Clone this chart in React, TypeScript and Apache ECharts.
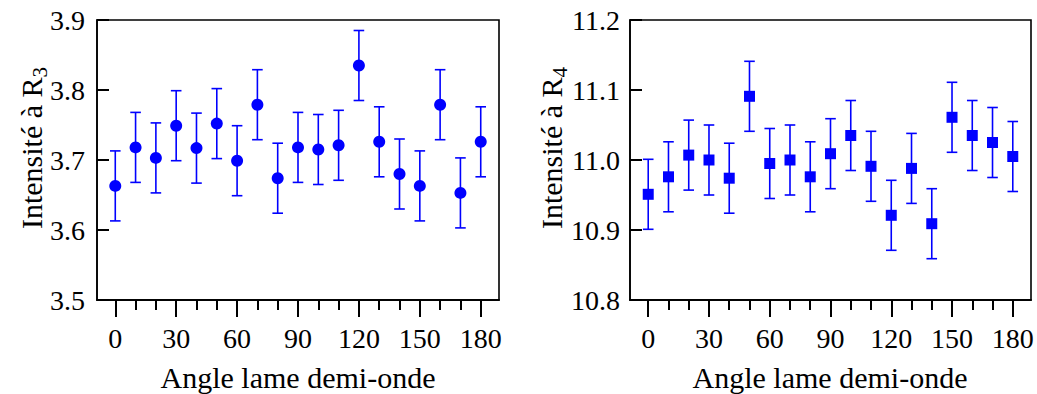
import React, { useEffect, useRef } from 'react';
import * as echarts from 'echarts';

const angles = [0, 10, 20, 30, 40, 50, 60, 70, 80, 90, 100, 110, 120, 130, 140, 150, 160, 170, 180];
const r3Values = [3.663, 3.718, 3.703, 3.749, 3.717, 3.752, 3.699, 3.779, 3.674, 3.718, 3.715, 3.721, 3.835, 3.726, 3.680, 3.663, 3.779, 3.653, 3.726];
const r3Errors = [0.05, 0.05, 0.05, 0.05, 0.05, 0.05, 0.05, 0.05, 0.05, 0.05, 0.05, 0.05, 0.05, 0.05, 0.05, 0.05, 0.05, 0.05, 0.05];
const r4Values = [10.951, 10.976, 11.007, 11.000, 10.974, 11.091, 10.995, 11.000, 10.976, 11.009, 11.035, 10.991, 10.921, 10.988, 10.909, 11.061, 11.035, 11.025, 11.005];
const r4Errors = [0.05, 0.05, 0.05, 0.05, 0.05, 0.05, 0.05, 0.05, 0.05, 0.05, 0.05, 0.05, 0.05, 0.05, 0.05, 0.05, 0.05, 0.05, 0.05];
const xMajorTicks = [0, 30, 60, 90, 120, 150, 180];
const xMinorTicks = [10, 20, 40, 50, 70, 80, 100, 110, 130, 140, 160, 170];
const xTitle = 'Angle lame demi-onde';
const r3Title = ['Intensité à R', '3'];
const r4Title = ['Intensité à R', '4'];

const FONT = "'Liberation Serif', 'Times New Roman', serif";
const BLUE = '#0000ff';
const BLACK = '#000000';

const renderErr = (params: any, api: any) => {
  const x = api.value(0);
  const lo = api.value(1);
  const hi = api.value(2);
  const pLo = api.coord([x, lo]);
  const pHi = api.coord([x, hi]);
  const hw = 5.3;
  const style = { stroke: BLUE, lineWidth: 1.6, fill: 'none' };
  return {
    type: 'group',
    children: [
      { type: 'line', shape: { x1: pLo[0], y1: pLo[1], x2: pHi[0], y2: pHi[1] }, style },
      { type: 'line', shape: { x1: pLo[0] - hw, y1: pLo[1], x2: pLo[0] + hw, y2: pLo[1] }, style },
      { type: 'line', shape: { x1: pHi[0] - hw, y1: pHi[1], x2: pHi[0] + hw, y2: pHi[1] }, style },
    ],
  };
};

const mainX = (gridIndex: number) => ({
  gridIndex,
  type: 'value',
  min: -9,
  max: 189,
  position: 'bottom',
  axisLine: { show: true, onZero: false, lineStyle: { color: BLACK, width: 1.6 } },
  axisTick: { show: true, length: 17, customValues: xMajorTicks, lineStyle: { color: BLACK, width: 2 } },
  axisLabel: { show: true, customValues: xMajorTicks, margin: 24, fontSize: 28, fontFamily: FONT, color: BLACK },
  splitLine: { show: false },
});

const minorX = (gridIndex: number) => ({
  gridIndex,
  type: 'value',
  min: -9,
  max: 189,
  position: 'bottom',
  axisLine: { show: true, onZero: false, lineStyle: { color: BLACK, width: 1.6 } },
  axisTick: { show: true, length: 10, customValues: xMinorTicks, lineStyle: { color: BLACK, width: 2 } },
  axisLabel: { show: false },
  splitLine: { show: false },
});

const yAx = (gridIndex: number, min: number, max: number, margin: number) => ({
  gridIndex,
  type: 'value',
  min,
  max,
  interval: 0.1,
  axisLine: { show: true, onZero: false, lineStyle: { color: BLACK, width: 1.6 } },
  axisTick: { show: true, inside: true, length: 12, lineStyle: { color: BLACK, width: 2 } },
  axisLabel: { margin, fontSize: 28, fontFamily: FONT, color: BLACK, formatter: (v: number) => v.toFixed(1) },
  splitLine: { show: false },
});

const yTitle = (cx: number, cy: number, parts: string[]) => ({
  type: 'text',
  x: cx,
  y: cy,
  rotation: Math.PI / 2,
  style: {
    text: `{a|${parts[0]}}{b|${parts[1]}}`,
    align: 'center',
    verticalAlign: 'middle',
    fill: BLACK,
    rich: {
      a: { fontSize: 30, lineHeight: 30, fontFamily: FONT, fill: BLACK, verticalAlign: 'top' },
      b: { fontSize: 21, lineHeight: 21, fontFamily: FONT, fill: BLACK, verticalAlign: 'top', padding: [13.5, 0, 0, 0] },
    },
  },
});

const xTitleEl = (cx: number) => ({
  type: 'text',
  x: cx,
  y: 377,
  style: { text: xTitle, align: 'center', verticalAlign: 'middle', fontSize: 30, fontFamily: FONT, fill: BLACK },
});

export default function App() {
  const ref = useRef<HTMLDivElement>(null);
  useEffect(() => {
    if (!ref.current) return;
    const chart = echarts.init(ref.current, undefined, { renderer: 'svg' });
    const option: any = {
      animation: false,
      backgroundColor: '#ffffff',
      grid: [
        { left: 97, top: 20, width: 402, height: 280, show: true, borderColor: BLACK, borderWidth: 1.6 },
        { left: 630, top: 20, width: 401, height: 280, show: true, borderColor: BLACK, borderWidth: 1.6 },
      ],
      xAxis: [mainX(0), minorX(0), mainX(1), minorX(1)],
      yAxis: [yAx(0, 3.5, 3.9, 12), yAx(1, 10.8, 11.2, 10)],
      series: [
        {
          type: 'custom',
          xAxisIndex: 0,
          yAxisIndex: 0,
          renderItem: renderErr,
          encode: { x: 0, y: [1, 2] },
          data: angles.map((a, i) => [a, r3Values[i] - r3Errors[i], r3Values[i] + r3Errors[i]]),
          z: 1,
        },
        {
          type: 'scatter',
          xAxisIndex: 0,
          yAxisIndex: 0,
          symbol: 'circle',
          symbolSize: 12,
          itemStyle: { color: BLUE, opacity: 1 },
          data: angles.map((a, i) => [a, r3Values[i]]),
          z: 2,
        },
        {
          type: 'custom',
          xAxisIndex: 2,
          yAxisIndex: 1,
          renderItem: renderErr,
          encode: { x: 0, y: [1, 2] },
          data: angles.map((a, i) => [a, r4Values[i] - r4Errors[i], r4Values[i] + r4Errors[i]]),
          z: 1,
        },
        {
          type: 'scatter',
          xAxisIndex: 2,
          yAxisIndex: 1,
          symbol: 'rect',
          symbolSize: 11,
          itemStyle: { color: BLUE, opacity: 1 },
          data: angles.map((a, i) => [a, r4Values[i]]),
          z: 2,
        },
      ],
      graphic: [
        yTitle(31, 148, r3Title),
        yTitle(551, 148, r4Title),
        xTitleEl(298),
        xTitleEl(830),
      ],
    };
    chart.setOption(option);
    return () => chart.dispose();
  }, []);
  return <div ref={ref} style={{ position: 'fixed', left: 0, top: 0, width: 1037, height: 394 }} />;
}
